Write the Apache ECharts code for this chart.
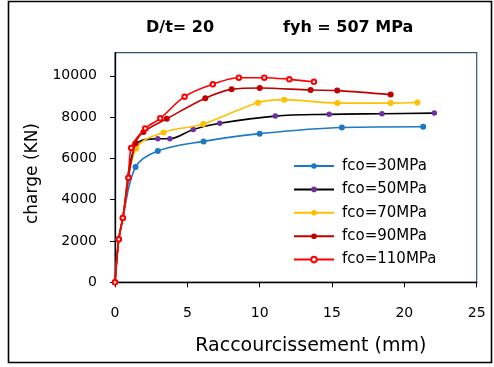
<!DOCTYPE html>
<html>
<head>
<meta charset="utf-8">
<script src="https://cdn.jsdelivr.net/npm/echarts@6/dist/echarts.min.js"></script>
<style>
  html, body { margin: 0; padding: 0; background: #fff; }
  #chart { width: 494px; height: 367px; }
</style>
</head>
<body>
<div id="chart"></div>
<script>
// Load (kN) versus axial shortening (mm) for several concrete strengths
const seriesNames = ['fco=30MPa', 'fco=50MPa', 'fco=70MPa', 'fco=90MPa', 'fco=110MPa'];

const fco30 = [[0, 0], [0.26, 2080], [0.54, 3120], [1.42, 5580], [2.96, 6355], [6.12, 6825], [10.0, 7200], [15.68, 7500], [21.3, 7535]];
const fco50 = [[0, 0], [0.26, 2080], [0.54, 3120], [1.42, 6620], [2.96, 6955], [3.79, 6955], [5.41, 7405], [7.24, 7705], [11.08, 8050], [14.8, 8135], [18.45, 8165], [22.07, 8195]];
const fco70 = [[0, 0], [0.26, 2080], [0.54, 3120], [1.47, 6480], [3.35, 7260], [6.1, 7670], [9.88, 8700], [11.7, 8845], [15.37, 8680], [19.05, 8680], [20.9, 8710]];
const fco90 = [[0, 0], [0.26, 2080], [0.54, 3120], [0.93, 5060], [1.42, 6740], [1.97, 7280], [3.58, 7920], [6.24, 8915], [8.06, 9345], [10.0, 9410], [13.52, 9310], [15.36, 9285], [19.05, 9090]];
const fco110 = [[0, 0], [0.26, 2080], [0.54, 3120], [0.93, 5060], [1.12, 6510], [2.09, 7450], [3.13, 7940], [4.81, 8990], [6.76, 9590], [8.56, 9910], [10.32, 9910], [12.05, 9830], [13.75, 9710]];

const xTicks = [0, 5, 10, 15, 20, 25];
const yTicks = [0, 2000, 4000, 6000, 8000, 10000];

const colors = ['#1C78C4', '#000000', '#FFC000', '#C00000', '#FF0000'];
const markerColors = ['#1C78C4', '#7030A0', '#FFC000', '#C00000', '#FF0000'];
const FONT = 'DejaVu Sans';

const chart = echarts.init(document.getElementById('chart'), null, { renderer: 'canvas' });

function lineSeries(i, data, symbol, size) {
  return {
    name: seriesNames[i],
    type: 'line',
    data: data,
    smooth: 0.35,
    symbol: symbol,
    symbolSize: size,
    showAllSymbol: true,
    lineStyle: { color: colors[i], width: 1.6, type: 'solid' },
    itemStyle: {
      color: markerColors[i],
      borderColor: markerColors[i],
      borderWidth: symbol === 'emptyCircle' ? 1.2 : 0
    },
    emphasis: { disabled: true },
    z: 2 + i
  };
}

chart.setOption({
  backgroundColor: '#fff',
  animation: false,
  title: [
    { text: 'D/t= 20', left: 146, top: 20, padding: 0,
      textStyle: { fontFamily: FONT, fontSize: 16, fontWeight: 'bold', color: '#000' } },
    { text: 'fyh = 507 MPa', left: 283, top: 20, padding: 0,
      textStyle: { fontFamily: FONT, fontSize: 16, fontWeight: 'bold', color: '#000' } }
  ],
  graphic: [{
    type: 'rect',
    shape: { x: 8.5, y: 1.5, width: 483, height: 361 },
    style: { fill: 'none', stroke: '#000', lineWidth: 1.6 },
    silent: true
  }],
  grid: {
    left: 115, right: 17.3, top: 52.7, bottom: 84.7,
    show: true, borderColor: '#2E5A68', borderWidth: 1.2, backgroundColor: '#fff'
  },
  legend: {
    orient: 'vertical',
    left: 293, top: 158.5,
    itemWidth: 40, itemHeight: 7, itemGap: 8.4,
    padding: 0,
    data: seriesNames,
    textStyle: { fontFamily: FONT, fontSize: 15, color: '#000', lineHeight: 14, padding: [0, 0, 0, 3] },
    selectedMode: false
  },
  xAxis: {
    type: 'value', min: 0, max: 25, interval: 5,
    name: 'Raccourcissement (mm)', nameLocation: 'middle', nameGap: 54,
    nameTextStyle: { fontFamily: FONT, fontSize: 19, color: '#000', padding: [0, 0, 0, 30] },
    axisLine: { lineStyle: { color: '#000', width: 1.3 } },
    axisTick: { show: true, inside: false, length: 5, lineStyle: { color: '#000' }, customValues: xTicks },
    axisLabel: { fontFamily: FONT, fontSize: 14, color: '#000', margin: 24, customValues: xTicks },
    splitLine: { show: false }
  },
  yAxis: {
    type: 'value', min: 0, max: 11120, interval: 2000,
    name: 'charge (KN)', nameLocation: 'middle', nameGap: 56,
    nameTextStyle: { fontFamily: FONT, fontSize: 17, color: '#000', padding: [0, 12, 0, 0] },
    axisLine: { show: true, lineStyle: { color: '#000', width: 1.3 } },
    axisTick: { show: true, inside: false, length: 5, lineStyle: { color: '#000' }, customValues: yTicks },
    axisLabel: { fontFamily: FONT, fontSize: 14, color: '#000', margin: 18, customValues: yTicks,
      formatter: function (v) { return String(v); } },
    splitLine: { show: false }
  },
  series: [
    lineSeries(0, fco30, 'circle', 6),
    lineSeries(1, fco50, 'circle', 5.5),
    lineSeries(2, fco70, 'circle', 6),
    lineSeries(3, fco90, 'circle', 6),
    lineSeries(4, fco110, 'emptyCircle', 4.5)
  ]
});
</script>
</body>
</html>
